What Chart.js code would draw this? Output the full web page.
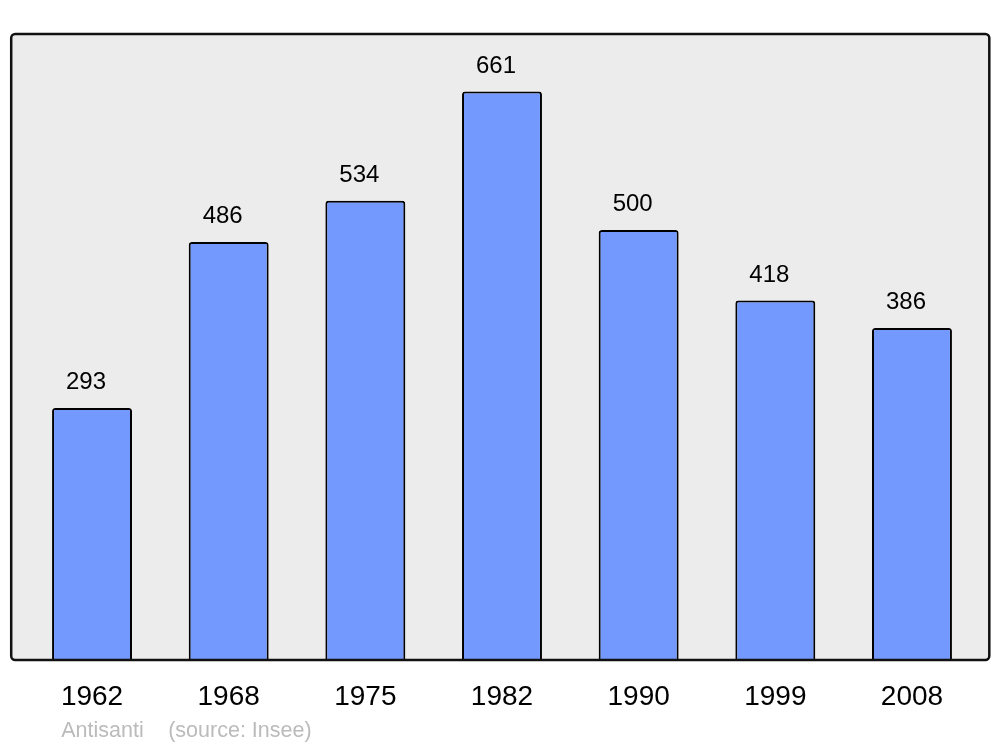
<!DOCTYPE html>
<html><head><meta charset="utf-8">
<script src="https://cdn.jsdelivr.net/npm/chart.js@4/dist/chart.umd.min.js"></script>
<style>html,body{margin:0;padding:0;background:#fff}#wrap{width:1000px;height:747px}</style>
</head><body><div id="wrap"><canvas id="c" width="1000" height="747"></canvas></div>
<script>
const years = ['1962','1968','1975','1982','1990','1999','2008'];
const population = [293,486,534,661,500,418,386];
const yMax = 728;
const credit = 'Antisanti';
const source = '(source: Insee)';

const FONT = "'Liberation Sans', Arial, sans-serif";

const boxPlugin = {
  id: 'box',
  beforeDatasetsDraw(chart) {
    const a = chart.chartArea, ctx = chart.ctx;
    ctx.save();
    ctx.beginPath();
    ctx.roundRect(a.left - 12.5, a.top, (a.right + 9) - (a.left - 12.5), a.bottom - a.top, 4);
    ctx.fillStyle = '#ececec';
    ctx.fill();
    ctx.restore();
  },
  afterDatasetsDraw(chart) {
    const a = chart.chartArea, ctx = chart.ctx;
    ctx.save();
    ctx.beginPath();
    ctx.roundRect(a.left - 12.5, a.top, (a.right + 9) - (a.left - 12.5), a.bottom - a.top, 4);
    ctx.lineWidth = 2.5;
    ctx.strokeStyle = '#111';
    ctx.stroke();
    // value labels
    const meta = chart.getDatasetMeta(0);
    ctx.fillStyle = '#000';
    ctx.font = '24px ' + FONT;
    ctx.textAlign = 'center';
    ctx.textBaseline = 'alphabetic';
    meta.data.forEach((bar, i) => {
      ctx.fillText(String(population[i]), bar.x - 6, bar.y - 19);
    });
    // footer
    ctx.fillStyle = '#bbbbbb';
    ctx.font = '21.5px ' + FONT;
    ctx.textAlign = 'left';
    ctx.fillText(credit, a.left + 37.5, 737);
    ctx.fillText(source, a.left + 144.5, 737);
    ctx.restore();
  }
};

new Chart(document.getElementById('c'), {
  type: 'bar',
  data: {
    labels: years,
    datasets: [{
      data: population,
      backgroundColor: '#7399ff',
      borderColor: '#000',
      borderWidth: 2,
      borderRadius: 3,
      categoryPercentage: 1,
      barPercentage: 0.585
    }]
  },
  options: {
    responsive: false,
    animation: false,
    devicePixelRatio: 1,
    layout: { padding: { left: 23.7, right: 19.7, top: 34, bottom: 0 } },
    plugins: { legend: { display: false }, tooltip: { enabled: false } },
    scales: {
      x: {
        grid: { display: false, drawTicks: false },
        border: { display: false },
        ticks: { color: '#000', font: { family: FONT, size: 28 }, padding: 20, maxRotation: 0 },
        afterFit(s) { s.height = 87; }
      },
      y: { display: false, min: 0, max: yMax }
    }
  },
  plugins: [boxPlugin]
});
</script>
</body></html>
